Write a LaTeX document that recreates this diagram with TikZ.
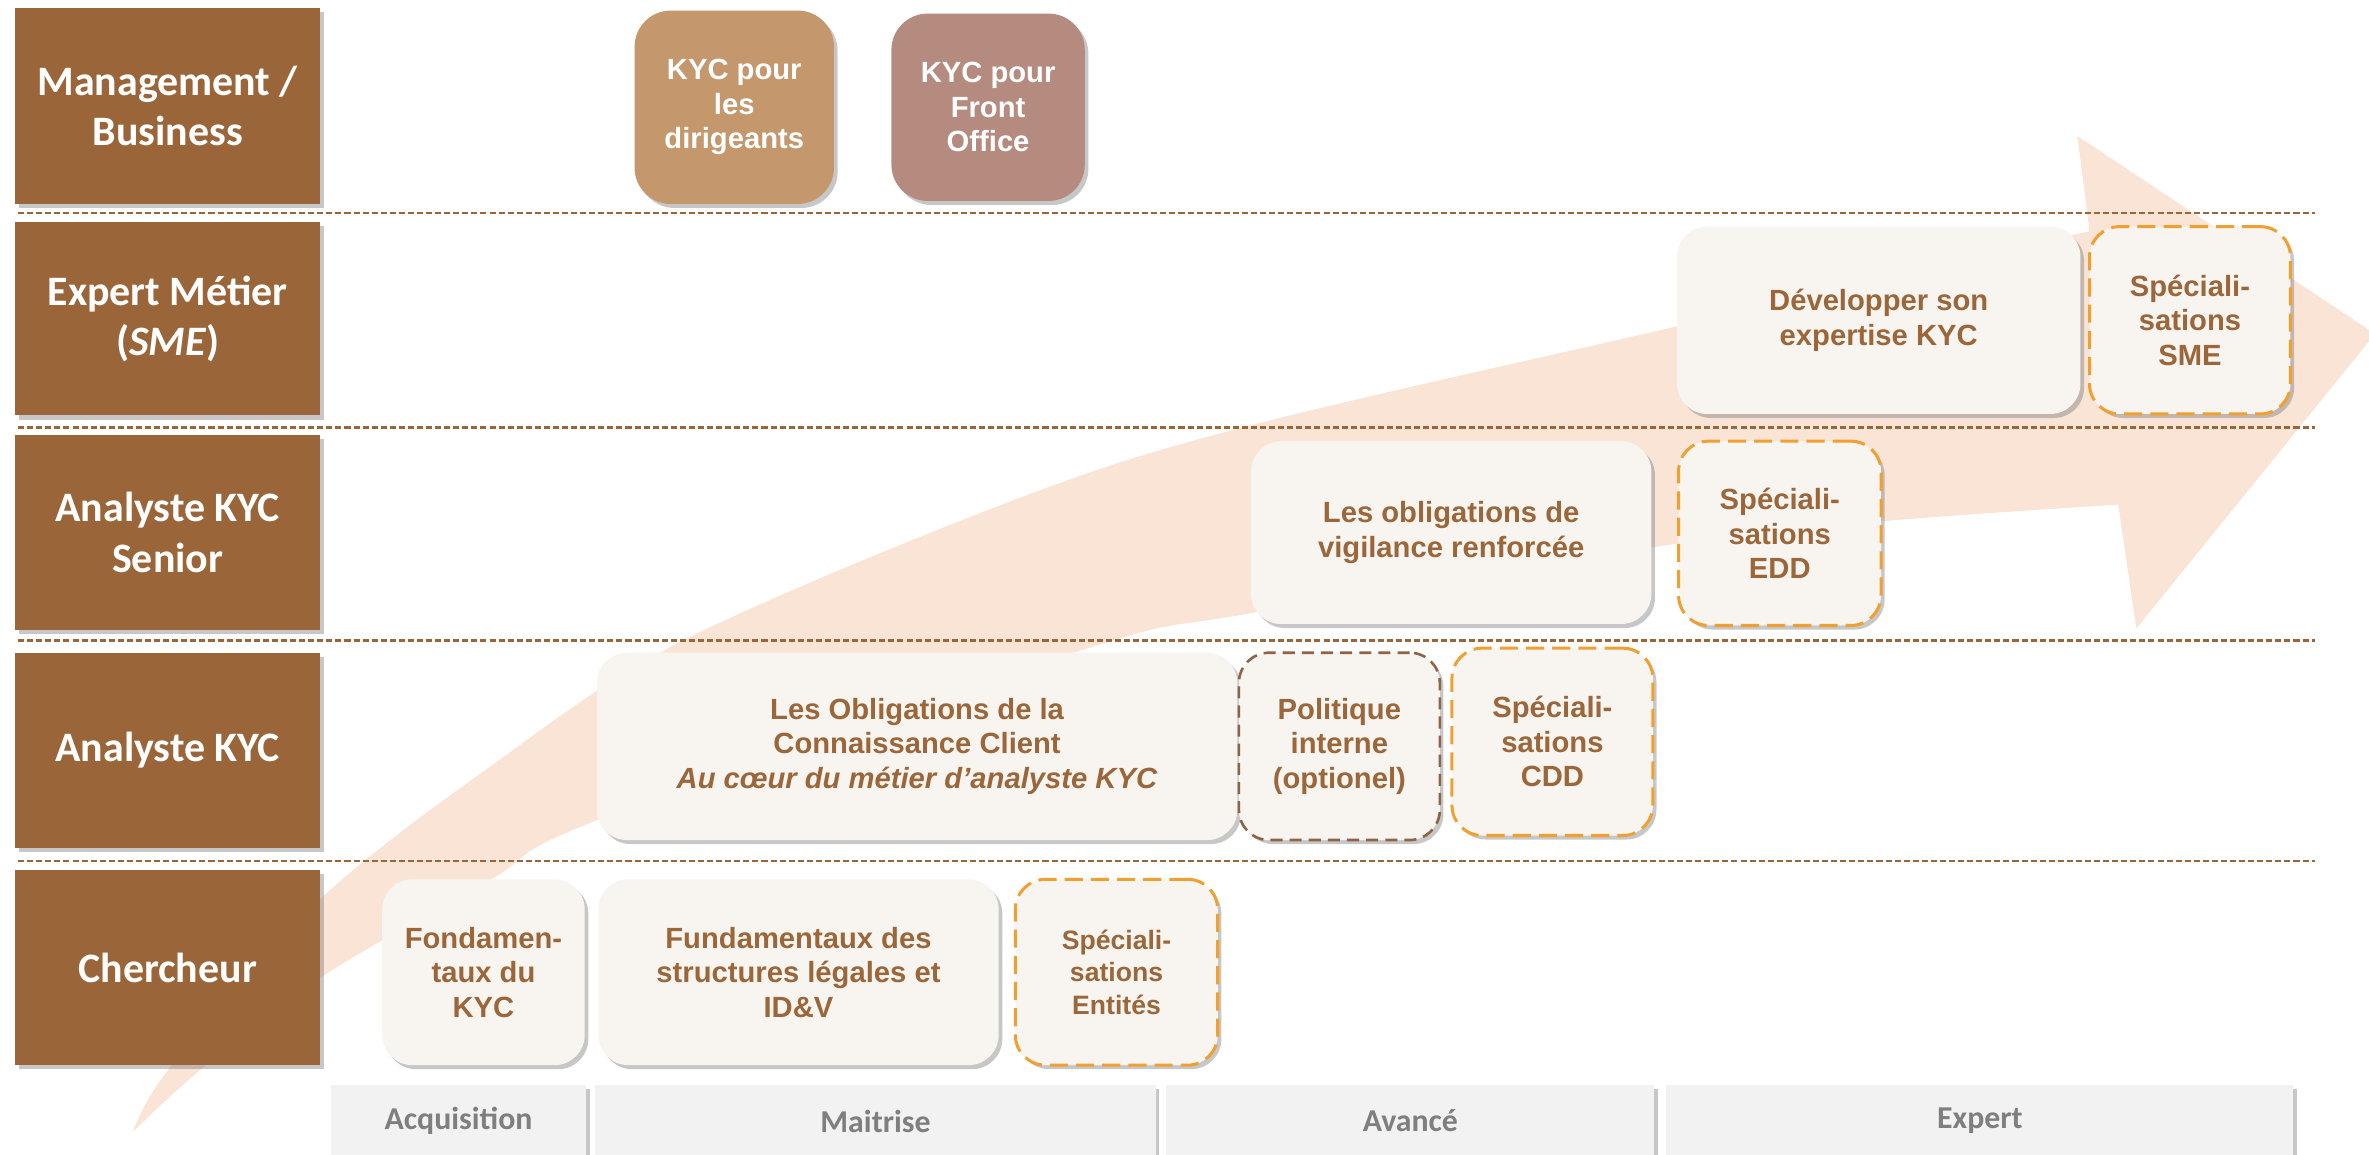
\documentclass[tikz,border=0pt]{standalone}
\usepackage{fontspec}
\setmainfont{Liberation Sans}
\newfontfamily\calib{Carlito}
\usetikzlibrary{shadows}
\definecolor{brn}{HTML}{9A6639}
\definecolor{txtbrn}{HTML}{9B663A}
\definecolor{cream}{HTML}{F8F5F0}
\definecolor{orng}{HTML}{F0A030}
\definecolor{polb}{HTML}{8E6448}
\definecolor{tanbox}{HTML}{C4976C}
\definecolor{mauvebox}{HTML}{B58B80}
\definecolor{barg}{HTML}{F2F2F2}
\definecolor{bartxt}{HTML}{7F7F7F}
\definecolor{peach}{HTML}{F9E4D6}
\tikzset{
  shad/.style={drop shadow={shadow xshift=1.8pt, shadow yshift=-2pt, opacity=0.4, fill=black!55}},
  lbl/.style={fill=brn, text=white, font=\calib\bfseries\fontsize{20.8}{25}\selectfont, align=center, inner sep=0pt, shad},
  course/.style={fill=cream, rounded corners=15pt, text=txtbrn, font=\bfseries\fontsize{14.5}{17.1}\selectfont, align=center, inner sep=0pt, shad},
  spec/.style={course, draw=orng, line width=1.5pt, dash pattern=on 9pt off 4pt},
  optbox/.style={course, draw=polb, line width=1.3pt, dash pattern=on 6pt off 3.5pt},
  mgmtbox/.style={course, rounded corners=18pt, text=white},
  levelbar/.style={fill=barg, text=bartxt, font=\calib\bfseries\fontsize{15.8}{18}\selectfont, inner sep=0pt, shad},
  divider/.style={draw=brn, line width=1.25pt, dash pattern=on 3pt off 1.5pt},
}
\newcommand{\boxat}[7]{\node[#1, minimum width={(#5-#3)*0.75pt}, minimum height={(#6-#4)*0.75pt}] (#2) at ({(#3+#5)/2},{(#4+#6)/2}) {#7};}
\begin{document}
\begin{tikzpicture}[x=0.75pt,y=-0.75pt]
\useasboundingbox (0,0) rectangle (1568,764);
% big curved arrow
\fill[peach] plot[smooth, tension=0.55] coordinates {(88,749) (113,706) (211,596) (325,507) (452,424) (671,331) (826,282) (1110,216) (1383,153)}
  -- (1375,90) -- (1572,221) -- (1414,416) -- (1402,334)
  -- plot[smooth, tension=0.55] coordinates {(1402,334) (1246,345) (1095,362) (827,406) (717,430) (395,543) (325,582) (212,647) (135,706) (88,749)} -- cycle;
% dividers
\foreach \yy in {141,283,424,570} \draw[divider] (12,\yy) -- (1532,\yy);
% row labels
\boxat{lbl}{lab1}{10}{5}{212}{135}{Management /\\Business}
\boxat{lbl}{lab2}{10}{147}{212}{275}{Expert Métier\\(\textit{SME})}
\boxat{lbl}{lab3}{10}{288}{212}{417}{Analyste KYC\\Senior}
\boxat{lbl}{lab4}{10}{432}{212}{561}{Analyste KYC}
\boxat{lbl}{lab5}{10}{576}{212}{705}{Chercheur}
% management row
\boxat{mgmtbox, fill=tanbox}{kyc1}{420}{7}{552}{135}{KYC pour\\les\\dirigeants}
\boxat{mgmtbox, fill=mauvebox}{kyc2}{590}{9}{718}{133}{KYC pour\\Front\\Office}
% expert row
\boxat{course}{dev}{1110}{150}{1377}{274}{Développer son\\expertise KYC}
\boxat{spec}{sme}{1383}{150}{1516}{274}{Spéciali-\\sations\\SME}
% senior row
\boxat{course}{vig}{828}{292}{1093}{413}{Les obligations de\\vigilance renforcée}
\boxat{spec}{edd}{1111}{292}{1245}{414}{Spéciali-\\sations\\EDD}
% analyste row
\boxat{course}{occ}{395}{432}{819}{556}{Les Obligations de la\\Connaissance Client\\\textit{Au cœur du métier d’analyste KYC}}
\boxat{optbox}{pol}{820}{432}{953}{556}{Politique\\interne\\(optionel)}
\boxat{spec}{cdd}{961}{429}{1094}{553}{Spéciali-\\sations\\CDD}
% chercheur row
\boxat{course}{fon}{253}{582}{387}{705}{Fondamen-\\taux du\\KYC}
\boxat{course}{fun}{396}{582}{661}{705}{Fundamentaux des\\structures légales et\\ID\&V}
\boxat{spec, font=\bfseries\fontsize{13.2}{16.2}\selectfont}{ent}{672}{582}{806}{705}{Spéciali-\\sations\\Entités}
% level bar
\boxat{levelbar}{acq}{219}{718}{388}{766}{Acquisition}
\boxat{levelbar}{mai}{394}{718}{765}{766}{Maitrise}
\boxat{levelbar}{ava}{772}{718}{1095}{766}{Avancé}
\boxat{levelbar}{expt}{1103}{718}{1518}{766}{Expert}
\end{tikzpicture}
\end{document}
